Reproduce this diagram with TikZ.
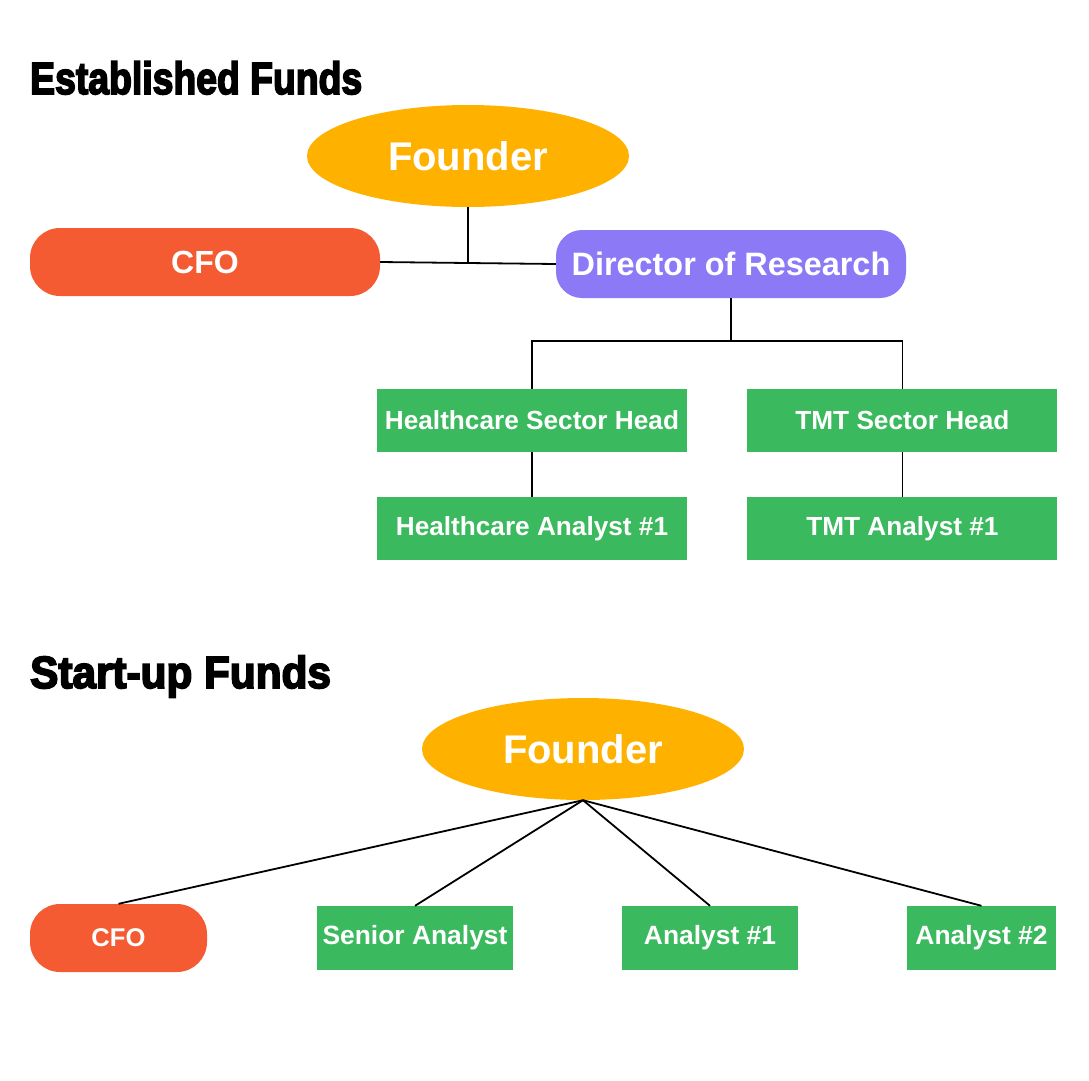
\documentclass[tikz,border=0pt]{standalone}
\usepackage{fontspec}
\usepackage{graphicx}
\setmainfont{Liberation Sans}
\newfontfamily\titlefont{Liberation Sans}[FakeBold=4, BoldFeatures={FakeBold=4}]
\usetikzlibrary{shapes.geometric, positioning, calc}
\definecolor{founderorange}{RGB}{255,177,0}
\definecolor{cfored}{RGB}{245,91,51}
\definecolor{dirpurple}{RGB}{140,121,246}
\definecolor{sectorgreen}{RGB}{59,185,94}

\begin{document}
\begin{tikzpicture}[x=1pt, y=-1pt,
  title/.style={anchor=base west, inner sep=0pt, font=\titlefont\bfseries\fontsize{45}{50}\selectfont},
  founder/.style={ellipse, fill=founderorange, minimum width=322pt, minimum height=102pt, inner sep=0pt, text=white, font=\bfseries\fontsize{40}{46}\selectfont},
  cfo/.style={rectangle, rounded corners=30pt, fill=cfored, minimum height=68pt, text=white, font=\bfseries\fontsize{32}{38}\selectfont},
  director/.style={rectangle, rounded corners=26pt, fill=dirpurple, minimum width=350pt, minimum height=68pt, text=white, font=\bfseries\fontsize{32.4}{38}\selectfont},
  sector/.style={rectangle, fill=sectorgreen, minimum width=310pt, minimum height=63pt, text=white, font=\bfseries\fontsize{26.2}{32}\selectfont},
  analyst/.style={rectangle, fill=sectorgreen, minimum height=64pt, inner sep=2pt, text=white, font=\bfseries\fontsize{26.4}{32}\selectfont},
  link/.style={draw=black, line width=1.8pt}
]
\fill[white] (0,0) rectangle (1089,1080);
\useasboundingbox (0,0) rectangle (1089,1080);
% established funds
\node[title] (t1) at (30,94) {\scalebox{0.83}[1]{Established Funds}};
\node[founder] (f1) at (468,156) {Founder};
\node[cfo, minimum width=350pt] (cfo1) at (205,262) {CFO};
\node[director] (dir) at (731,264) {Director of Research};
\node[sector] (hch) at (532,420.5) {Healthcare Sector Head};
\node[sector, right=60pt of hch] (tmt) {TMT Sector Head};
\node[sector, below=45pt of hch] (hca) {Healthcare Analyst \#1};
\node[sector, below=45pt of tmt] (tma) {TMT Analyst \#1};
\draw[link] (cfo1.east) -- (dir.west);
\draw[link] (f1.south) -- ($(cfo1.east)!0.5!(dir.west)$);
\coordinate (split) at ($(dir.south)+(0,43)$);
\draw[link] (dir.south) -- (split);
\draw[link] (hch.north) |- (split) -| (tmt.north);
\draw[link] (hch) -- (hca);
\draw[link] (tmt) -- (tma);
% start-up funds
\node[title] (t2) at (30,688) {\scalebox{0.94}[1]{Start-up Funds}};
\node[founder] (f2) at (583,749) {Founder};
\node[cfo, minimum width=177pt, font=\bfseries\fontsize{25.6}{30}\selectfont] (cfo2) at (118.5,938) {CFO};
\node[analyst, minimum width=196pt] (sen) at (415,938) {Senior Analyst};
\node[analyst, minimum width=176pt] (an1) at (710,938) {Analyst \#1};
\node[analyst, minimum width=149pt] (an2) at (981.5,938) {Analyst \#2};
\foreach \n in {cfo2, sen, an1, an2}
  \draw[link] (f2.south) -- (\n.north);
\end{tikzpicture}
\end{document}
